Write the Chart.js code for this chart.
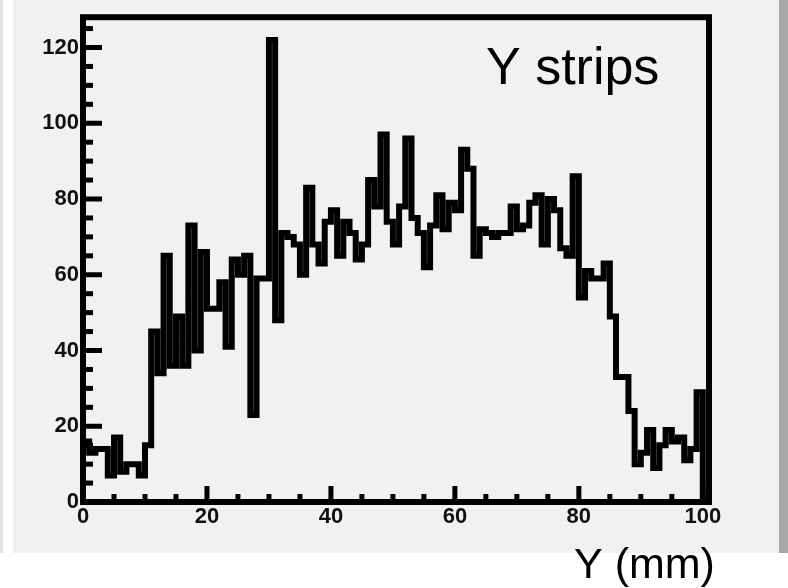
<!DOCTYPE html>
<html>
<head>
<meta charset="utf-8">
<script src="https://cdn.jsdelivr.net/npm/chart.js@4.4.1/dist/chart.umd.min.js"></script>
<style>
  html, body { margin: 0; padding: 0; background: #fff; }
  #wrap { position: relative; width: 788px; height: 588px; overflow: hidden; }
  #panel { position: absolute; left: 13px; top: 0; width: 766px; height: 553px; background: #f1f1f1; }
  #edgeL { position: absolute; left: 0; top: 0; width: 3px; height: 553px; background: #e2e2e2; }
  #edgeR { position: absolute; left: 779px; top: 0; width: 9px; height: 553px; background: #a8a8a8; }
  #hist { position: absolute; left: 0; top: 0; }
</style>
</head>
<body>
<div id="wrap">
  <div id="panel"></div>
  <div id="edgeL"></div>
  <div id="edgeR"></div>
  <canvas id="hist" width="788" height="588"></canvas>
</div>
<script>
// hits per 1 mm strip, Y = 0..100 mm
const counts = [
  16, 13, 14, 14, 7, 17, 8, 10, 10, 7,
  15, 45, 34, 65, 36, 49, 36, 73, 40, 66,
  51, 51, 58, 41, 64, 60, 65, 23, 59, 59,
  122, 48, 71, 70, 68, 60, 83, 68, 63, 74,
  77, 65, 74, 71, 64, 68, 85, 78, 97, 74,
  68, 78, 96, 75, 71, 62, 73, 81, 72, 79,
  77, 93, 88, 65, 72, 71, 70, 71, 71, 78,
  72, 73, 79, 81, 68, 80, 77, 67, 65, 86,
  54, 61, 59, 59, 63, 49, 33, 33, 24, 10,
  13, 19, 9, 15, 19, 16, 17, 11, 14, 29
];
const binWidth = 1;
const xRange = [0, 101];
const yRange = [0, 128];
const xTicks = [0, 20, 40, 60, 80, 100];
const yTicks = [0, 20, 40, 60, 80, 100, 120];
const minorStep = 5;

// outline points: rise from 0, one step per bin, drop back to 0
const outline = [{ x: 0, y: 0 }];
counts.forEach((c, i) => outline.push({ x: i * binWidth, y: c }));
outline.push({ x: counts.length * binWidth, y: 0 });

const tickFont = { family: 'Liberation Sans, Arial, sans-serif', size: 22, weight: 'bold' };

const frame = {
  id: 'frame',
  beforeDatasetsDraw(chart) {
    const { ctx, chartArea: a } = chart;
    ctx.save();
    ctx.fillStyle = '#f1f1f1';
    ctx.fillRect(a.left, a.top, a.right - a.left, a.bottom - a.top);
    ctx.restore();
  },
  afterDraw(chart) {
    const { ctx, chartArea: a, scales: { x, y } } = chart;
    ctx.save();
    ctx.strokeStyle = '#000';
    ctx.lineCap = 'butt';

    // ticks point inwards, long ones on the labelled values
    ctx.lineWidth = 5;
    for (let v = yRange[0]; v <= yRange[1]; v += minorStep) {
      const py = y.getPixelForValue(v);
      const len = yTicks.includes(v) ? 19 : 10;
      ctx.beginPath(); ctx.moveTo(a.left, py); ctx.lineTo(a.left + len, py); ctx.stroke();
    }
    ctx.lineWidth = 5;
    for (let v = xRange[0]; v <= xRange[1]; v += minorStep) {
      const px = x.getPixelForValue(v);
      const len = xTicks.includes(v) ? 16 : 8;
      ctx.beginPath(); ctx.moveTo(px, a.bottom); ctx.lineTo(px, a.bottom - len); ctx.stroke();
    }

    ctx.lineWidth = 6;
    ctx.lineJoin = 'miter';
    ctx.strokeRect(a.left, a.top, a.right - a.left, a.bottom - a.top);

    ctx.fillStyle = '#000';
    ctx.textBaseline = 'alphabetic';
    ctx.textAlign = 'left';
    ctx.font = '52px "Liberation Sans", Arial, sans-serif';
    ctx.fillText('Y strips', 486, 84);
    ctx.font = '43px "Liberation Sans", Arial, sans-serif';
    ctx.fillText('Y (mm)', 574, 578);
    ctx.restore();
  }
};

new Chart(document.getElementById('hist'), {
  type: 'line',
  data: {
    datasets: [{
      data: outline,
      stepped: 'before',
      borderColor: '#000',
      borderWidth: 6,
      borderJoinStyle: 'miter',
      borderCapStyle: 'butt',
      pointRadius: 0,
      fill: false,
      tension: 0
    }]
  },
  options: {
    responsive: false,
    animation: false,
    devicePixelRatio: 1,
    layout: { padding: { top: 12, right: 79, left: 0, bottom: 0 } },
    plugins: { legend: { display: false }, tooltip: { enabled: false } },
    scales: {
      x: {
        type: 'linear',
        min: xRange[0],
        max: xRange[1],
        afterBuildTicks: s => { s.ticks = xTicks.map(v => ({ value: v })); },
        afterFit: s => { s.height = 86; },
        grid: { drawOnChartArea: false, drawTicks: false },
        border: { display: false },
        ticks: { font: tickFont, color: '#111', padding: 2, maxRotation: 0 }
      },
      y: {
        type: 'linear',
        min: yRange[0],
        max: yRange[1],
        afterBuildTicks: s => { s.ticks = yTicks.map(v => ({ value: v })); },
        afterFit: s => { s.width = 83; },
        grid: { drawOnChartArea: false, drawTicks: false },
        border: { display: false },
        ticks: { font: tickFont, color: '#111', padding: 4 }
      }
    }
  },
  plugins: [frame]
});
</script>
</body>
</html>
